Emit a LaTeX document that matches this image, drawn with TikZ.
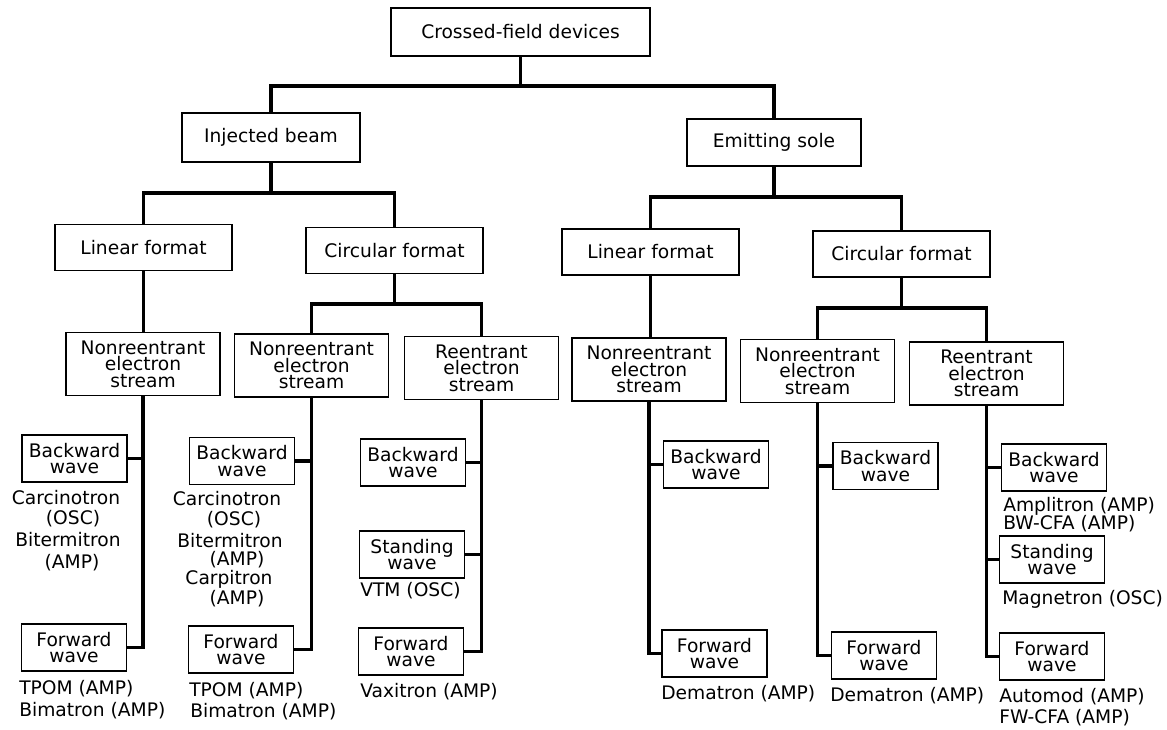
\documentclass[tikz,border=0pt]{standalone}
\usepackage{fontspec}
\setmainfont{DejaVu Sans}
\begin{document}
\begin{tikzpicture}[x=0.75pt,y=-0.75pt,
  every node/.style={font=\fontsize{14}{12.5}\selectfont},
  box/.style={draw, line width=1.2pt, align=center, inner sep=0pt},
  fmt/.style={box, minimum width=132.75pt, minimum height=34.5pt},
  strm/.style={box, minimum width=115.5pt, minimum height=47pt},
  leaf/.style={box, minimum width=78.75pt, minimum height=35.25pt},
  conn/.style={line width=2.8pt, line join=miter},
  lbl/.style={inner sep=0pt},
  lblw/.style={inner sep=0pt, anchor=west}]
\useasboundingbox (0,0) rectangle (1167,729);

% level 0-1
\node[box, minimum width=194.25pt, minimum height=36pt] (root) at (520.5,32) {Crossed-field devices};
\node[box, minimum width=133.5pt, minimum height=36.75pt] (inj) at (271,137.5) {Injected beam};
\node[box, minimum width=130.5pt, minimum height=35.25pt] (emit) at (774,142.5) {Emitting sole};
% level 2
\node[fmt] (lin1) at (143.5,247.5) {Linear format};
\node[fmt] (cir1) at (394.5,250.5) {Circular format};
\node[fmt] (lin2) at (650.5,252) {Linear format};
\node[fmt] (cir2) at (901.5,254) {Circular format};
% level 3
\node[strm] (s1) at (143,364) {Nonreentrant\\electron\\stream};
\node[strm] (s2) at (311.5,365.5) {Nonreentrant\\electron\\stream};
\node[strm] (s3) at (481.5,368) {Reentrant\\electron\\stream};
\node[strm] (s4) at (649,369.5) {Nonreentrant\\electron\\stream};
\node[strm] (s5) at (817.5,371) {Nonreentrant\\electron\\stream};
\node[strm] (s6) at (986.5,373.5) {Reentrant\\electron\\stream};
% leaves
\node[leaf] (b1) at (74.5,458.5) {Backward\\wave};
\node[leaf] (f1) at (74,647.5) {Forward\\wave};
\node[leaf] (b2) at (242,461) {Backward\\wave};
\node[leaf] (f2) at (241,649.5) {Forward\\wave};
\node[leaf] (b3) at (413,462.5) {Backward\\wave};
\node[leaf] (w3) at (412,554.5) {Standing\\wave};
\node[leaf] (f3) at (411,651.5) {Forward\\wave};
\node[leaf] (b4) at (716,464.5) {Backward\\wave};
\node[leaf] (f4) at (714.5,653.5) {Forward\\wave};
\node[leaf] (b5) at (885.5,466) {Backward\\wave};
\node[leaf] (f5) at (884,655.5) {Forward\\wave};
\node[leaf] (b6) at (1054,467.5) {Backward\\wave};
\node[leaf] (w6) at (1052,559.5) {Standing\\wave};
\node[leaf] (f6) at (1052,656.5) {Forward\\wave};

% connectors
\coordinate (j0) at (520.5,86);
\draw[conn] (root.south) -- (j0);
\draw[conn] (inj.north) |- (j0) -| (emit.north);
\coordinate (j1) at (271,193);
\draw[conn] (inj.south) -- (j1);
\draw[conn] (lin1.north) |- (j1) -| (cir1.north);
\coordinate (j2) at (774,197);
\draw[conn] (emit.south) -- (j2);
\draw[conn] (lin2.north) |- (j2) -| (cir2.north);
\draw[conn] (lin1.south) -- (lin1.south |- s1.north);
\draw[conn] (lin2.south) -- (lin2.south |- s4.north);
\coordinate (j3) at (394.5,304);
\draw[conn] (cir1.south) -- (j3);
\draw[conn] (s2.north) |- (j3) -| (s3.north);
\coordinate (j4) at (901.5,308);
\draw[conn] (cir2.south) -- (j4);
\draw[conn] (s5.north) |- (j4) -| (s6.north);

\draw[conn] (s1.south) |- (f1.east);
\draw[conn] (s1.south |- b1.east) -- (b1.east);
\draw[conn] (s2.south) |- (f2.east);
\draw[conn] (s2.south |- b2.east) -- (b2.east);
\draw[conn] (s3.south) |- (f3.east);
\draw[conn] (s3.south |- b3.east) -- (b3.east);
\draw[conn] (s3.south |- w3.east) -- (w3.east);
\draw[conn] (s4.south) |- (f4.west);
\draw[conn] (s4.south |- b4.west) -- (b4.west);
\draw[conn] (s5.south) |- (f5.west);
\draw[conn] (s5.south |- b5.west) -- (b5.west);
\draw[conn] (s6.south) |- (f6.west);
\draw[conn] (s6.south |- b6.west) -- (b6.west);
\draw[conn] (s6.south |- w6.west) -- (w6.west);

% labels
\node[lbl] (l1a) at (66,498) {Carcinotron};
\node[lbl] (l1b) at (73,519) {(OSC)};
\node[lbl] (l1c) at (68,540) {Bitermitron};
\node[lbl] (l1d) at (72,563) {(AMP)};
\node[lblw] (l1e) at (19,689) {TPOM (AMP)};
\node[lblw] (l1f) at (19,711) {Bimatron (AMP)};
\node[lbl] (l2a) at (227,499) {Carcinotron};
\node[lbl] (l2b) at (234,520) {(OSC)};
\node[lbl] (l2c) at (230,541) {Bitermitron};
\node[lbl] (l2d) at (237,560) {(AMP)};
\node[lbl] (l2e) at (229,579) {Carpitron};
\node[lbl] (l2f) at (237,599) {(AMP)};
\node[lblw] (l2g) at (189,691) {TPOM (AMP)};
\node[lblw] (l2h) at (190,712) {Bimatron (AMP)};
\node[lblw] (l3a) at (360,591) {VTM (OSC)};
\node[lblw] (l3b) at (360,692) {Vaxitron (AMP)};
\node[lblw] (l4a) at (661,694) {Dematron (AMP)};
\node[lblw] (l5a) at (830,696) {Dematron (AMP)};
\node[lblw] (l6a) at (1003,506) {Amplitron (AMP)};
\node[lblw] (l6b) at (1003,524) {BW-CFA (AMP)};
\node[lblw] (l6c) at (1002,599) {Magnetron (OSC)};
\node[lblw] (l6d) at (999,697) {Automod (AMP)};
\node[lblw] (l6e) at (999,718) {FW-CFA (AMP)};
\end{tikzpicture}
\end{document}
